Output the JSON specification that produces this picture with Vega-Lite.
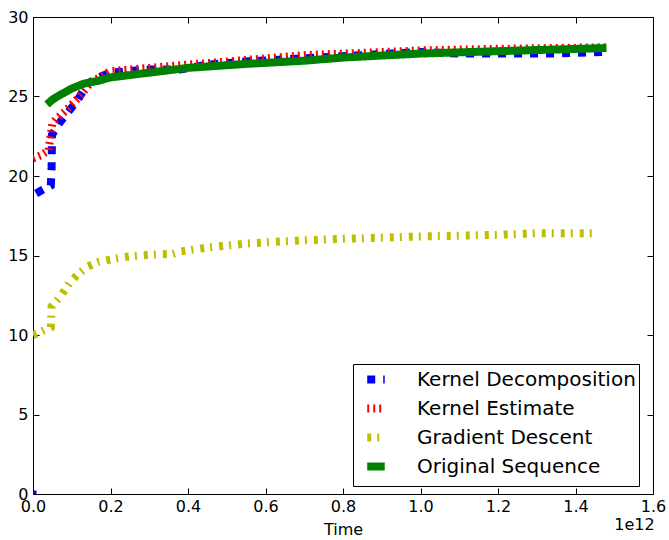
{
  "$schema": "https://vega.github.io/schema/vega-lite/v6.json",
  "width": 620,
  "height": 477,
  "autosize": "none",
  "padding": {"left": 33, "top": 17, "right": 16, "bottom": 46},
  "background": "white",
  "title": {
    "text": "1e12",
    "orient": "bottom",
    "anchor": "end",
    "fontSize": 16,
    "fontWeight": "normal",
    "font": "DejaVu Sans",
    "offset": -20,
    "dx": -11
  },
  "datasets": {
    "lines": [
      {"t": 8e9, "v": 18.9, "series": "Kernel Decomposition"},
      {"t": 3e10, "v": 19.2, "series": "Kernel Decomposition"},
      {"t": 4.6e10, "v": 19.4, "series": "Kernel Decomposition"},
      {"t": 4.8e10, "v": 20.5, "series": "Kernel Decomposition"},
      {"t": 4.9e10, "v": 22.6, "series": "Kernel Decomposition"},
      {"t": 6e10, "v": 23.0, "series": "Kernel Decomposition"},
      {"t": 7e10, "v": 23.4, "series": "Kernel Decomposition"},
      {"t": 9e10, "v": 24.0, "series": "Kernel Decomposition"},
      {"t": 1.16e11, "v": 24.8, "series": "Kernel Decomposition"},
      {"t": 1.4e11, "v": 25.8, "series": "Kernel Decomposition"},
      {"t": 1.7e11, "v": 26.2, "series": "Kernel Decomposition"},
      {"t": 2e11, "v": 26.5, "series": "Kernel Decomposition"},
      {"t": 2.5e11, "v": 26.6, "series": "Kernel Decomposition"},
      {"t": 3e11, "v": 26.7, "series": "Kernel Decomposition"},
      {"t": 3.8e11, "v": 26.7, "series": "Kernel Decomposition"},
      {"t": 4.5e11, "v": 27.0, "series": "Kernel Decomposition"},
      {"t": 5.5e11, "v": 27.2, "series": "Kernel Decomposition"},
      {"t": 7e11, "v": 27.4, "series": "Kernel Decomposition"},
      {"t": 8.5e11, "v": 27.6, "series": "Kernel Decomposition"},
      {"t": 1e12, "v": 27.8, "series": "Kernel Decomposition"},
      {"t": 1.1e12, "v": 27.7, "series": "Kernel Decomposition"},
      {"t": 1.2e12, "v": 27.7, "series": "Kernel Decomposition"},
      {"t": 1.35e12, "v": 27.7, "series": "Kernel Decomposition"},
      {"t": 1.47e12, "v": 27.8, "series": "Kernel Decomposition"},

      {"t": 0, "v": 21.1, "series": "Kernel Estimate"},
      {"t": 2e10, "v": 21.3, "series": "Kernel Estimate"},
      {"t": 4e10, "v": 21.6, "series": "Kernel Estimate"},
      {"t": 4.5e10, "v": 22.5, "series": "Kernel Estimate"},
      {"t": 5e10, "v": 23.3, "series": "Kernel Estimate"},
      {"t": 6e10, "v": 23.6, "series": "Kernel Estimate"},
      {"t": 8e10, "v": 24.0, "series": "Kernel Estimate"},
      {"t": 1e11, "v": 24.5, "series": "Kernel Estimate"},
      {"t": 1.2e11, "v": 25.0, "series": "Kernel Estimate"},
      {"t": 1.5e11, "v": 25.9, "series": "Kernel Estimate"},
      {"t": 2e11, "v": 26.6, "series": "Kernel Estimate"},
      {"t": 3e11, "v": 26.8, "series": "Kernel Estimate"},
      {"t": 4e11, "v": 27.0, "series": "Kernel Estimate"},
      {"t": 5e11, "v": 27.2, "series": "Kernel Estimate"},
      {"t": 6e11, "v": 27.4, "series": "Kernel Estimate"},
      {"t": 7e11, "v": 27.6, "series": "Kernel Estimate"},
      {"t": 8e11, "v": 27.7, "series": "Kernel Estimate"},
      {"t": 9e11, "v": 27.8, "series": "Kernel Estimate"},
      {"t": 1e12, "v": 27.9, "series": "Kernel Estimate"},
      {"t": 1.2e12, "v": 28.0, "series": "Kernel Estimate"},
      {"t": 1.48e12, "v": 28.1, "series": "Kernel Estimate"},

      {"t": 0, "v": 10.0, "series": "Gradient Descent"},
      {"t": 2e10, "v": 10.2, "series": "Gradient Descent"},
      {"t": 4.6e10, "v": 10.5, "series": "Gradient Descent"},
      {"t": 4.8e10, "v": 11.8, "series": "Gradient Descent"},
      {"t": 7e10, "v": 12.4, "series": "Gradient Descent"},
      {"t": 9.5e10, "v": 13.3, "series": "Gradient Descent"},
      {"t": 1.15e11, "v": 13.8, "series": "Gradient Descent"},
      {"t": 1.4e11, "v": 14.3, "series": "Gradient Descent"},
      {"t": 1.7e11, "v": 14.6, "series": "Gradient Descent"},
      {"t": 2.1e11, "v": 14.8, "series": "Gradient Descent"},
      {"t": 2.5e11, "v": 14.95, "series": "Gradient Descent"},
      {"t": 3e11, "v": 15.05, "series": "Gradient Descent"},
      {"t": 3.6e11, "v": 15.1, "series": "Gradient Descent"},
      {"t": 3.8e11, "v": 15.25, "series": "Gradient Descent"},
      {"t": 4.5e11, "v": 15.5, "series": "Gradient Descent"},
      {"t": 5.5e11, "v": 15.75, "series": "Gradient Descent"},
      {"t": 6.5e11, "v": 15.9, "series": "Gradient Descent"},
      {"t": 8e11, "v": 16.05, "series": "Gradient Descent"},
      {"t": 1e12, "v": 16.2, "series": "Gradient Descent"},
      {"t": 1.2e12, "v": 16.3, "series": "Gradient Descent"},
      {"t": 1.3e12, "v": 16.4, "series": "Gradient Descent"},
      {"t": 1.46e12, "v": 16.4, "series": "Gradient Descent"},

      {"t": 3.6e10, "v": 24.5, "series": "Original Sequence"},
      {"t": 5e10, "v": 24.8, "series": "Original Sequence"},
      {"t": 7e10, "v": 25.1, "series": "Original Sequence"},
      {"t": 1e11, "v": 25.5, "series": "Original Sequence"},
      {"t": 1.3e11, "v": 25.8, "series": "Original Sequence"},
      {"t": 1.7e11, "v": 26.0, "series": "Original Sequence"},
      {"t": 2e11, "v": 26.2, "series": "Original Sequence"},
      {"t": 3e11, "v": 26.5, "series": "Original Sequence"},
      {"t": 4e11, "v": 26.8, "series": "Original Sequence"},
      {"t": 5.5e11, "v": 27.05, "series": "Original Sequence"},
      {"t": 7e11, "v": 27.25, "series": "Original Sequence"},
      {"t": 8e11, "v": 27.45, "series": "Original Sequence"},
      {"t": 1e12, "v": 27.7, "series": "Original Sequence"},
      {"t": 1.2e12, "v": 27.85, "series": "Original Sequence"},
      {"t": 1.48e12, "v": 28.05, "series": "Original Sequence"}
    ],
    "origin": [{"t": 0, "v": 0}]
  },
  "layer": [
    {
      "data": {"name": "lines"},
      "mark": {"type": "line", "clip": true, "strokeCap": "butt", "strokeJoin": "miter"},
      "encoding": {
        "x": {
          "field": "t",
          "type": "quantitative",
          "scale": {"domain": [0, 1600000000000], "nice": false},
          "axis": {
            "title": "Time",
            "values": [0, 200000000000, 400000000000, 600000000000, 800000000000, 1000000000000, 1200000000000, 1400000000000, 1600000000000],
            "labelExpr": "format(datum.value / 1e12, '.1f')"
          }
        },
        "y": {
          "field": "v",
          "type": "quantitative",
          "scale": {"domain": [0, 30], "nice": false},
          "axis": {"title": null, "values": [0, 5, 10, 15, 20, 25, 30]}
        },
        "color": {
          "field": "series",
          "type": "nominal",
          "scale": {
            "domain": ["Kernel Decomposition", "Kernel Estimate", "Gradient Descent", "Original Sequence"],
            "range": ["#0000ff", "#ff0000", "#bfbf00", "#008000"]
          },
          "legend": {"title": null}
        },
        "strokeDash": {
          "field": "series",
          "type": "nominal",
          "scale": {
            "domain": ["Kernel Decomposition", "Kernel Estimate", "Gradient Descent", "Original Sequence"],
            "range": [[8, 8], [2, 4], [4, 6, 2, 7], [1, 0]]
          },
          "legend": {"title": null}
        },
        "strokeWidth": {
          "field": "series",
          "type": "nominal",
          "scale": {
            "domain": ["Kernel Decomposition", "Kernel Estimate", "Gradient Descent", "Original Sequence"],
            "range": [8, 8, 8, 10]
          },
          "legend": {"title": null}
        }
      }
    },
    {
      "data": {"name": "origin"},
      "mark": {"type": "square", "color": "#0000ff", "opacity": 1, "size": 50, "clip": true},
      "encoding": {
        "x": {"field": "t", "type": "quantitative", "axis": {"orient": "top", "labels": false, "title": null, "domain": false, "values": [0, 200000000000, 400000000000, 600000000000, 800000000000, 1000000000000, 1200000000000, 1400000000000, 1600000000000]}},
        "y": {"field": "v", "type": "quantitative", "axis": {"orient": "right", "labels": false, "title": null, "domain": false, "values": [0, 5, 10, 15, 20, 25, 30]}}
      }
    }
  ],
  "resolve": {"axis": {"x": "independent", "y": "independent"}},
  "config": {
    "font": "DejaVu Sans",
    "view": {"stroke": "black", "strokeWidth": 1},
    "axis": {
      "grid": false,
      "domain": false,
      "labelFlush": false,
      "tickColor": "black",
      "tickSize": -6,
      "tickWidth": 1,
      "labelColor": "black",
      "labelFontSize": 16,
      "labelFont": "DejaVu Sans",
      "titleFont": "DejaVu Sans",
      "titleFontSize": 16,
      "titleFontWeight": "normal",
      "titleColor": "black"
    },
    "axisBottom": {"labelPadding": 10, "titlePadding": 7},
    "axisLeft": {"labelPadding": 11},
    "legend": {
      "orient": "none",
      "legendX": 320,
      "legendY": 347,
      "fillColor": "white",
      "strokeColor": "black",
      "padding": 3,
      "cornerRadius": 0,
      "labelFontSize": 20,
      "labelFont": "DejaVu Sans",
      "labelColor": "black",
      "labelLimit": 0,
      "symbolType": "M-0.15,0H1.91",
      "symbolSize": 289,
      "labelOffset": 36,
      "rowPadding": -4
    }
  }
}
